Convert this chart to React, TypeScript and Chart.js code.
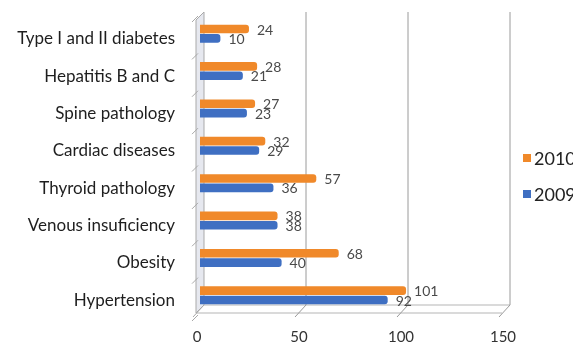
import React, { useEffect, useRef } from "react";
import { Chart, registerables } from "chart.js";

Chart.register(...registerables);

const categories = [
  "Type I and II diabetes",
  "Hepatitis B and C",
  "Spine pathology",
  "Cardiac diseases",
  "Thyroid pathology",
  "Venous insuficiency",
  "Obesity",
  "Hypertension",
];
const values2010 = [24, 28, 27, 32, 57, 38, 68, 101];
const values2009 = [10, 21, 23, 29, 36, 38, 40, 92];
const xTicks = [0, 50, 100, 150];
const seriesNames = ["2010", "2009"];
const seriesColors = ["#F0892A", "#3F6FC2"];

const FONT = "Lato, 'DejaVu Sans', sans-serif";

const decorPlugin = {
  id: "decor3d",
  beforeDatasetsDraw(chart: any) {
    const ctx = chart.ctx;
    const xs = chart.scales.x;
    const ca = chart.chartArea;
    const d = 4;
    const topBack = ca.top - 3;
    const floorBack = ca.bottom - 9;
    const floorFront = ca.bottom - 1;
    ctx.save();
    const x0 = xs.getPixelForValue(0);
    ctx.fillStyle = "#e6e8ef";
    ctx.strokeStyle = "#a9a9a9";
    ctx.lineWidth = 1;
    ctx.beginPath();
    ctx.moveTo(x0 - d, topBack + 2 * d);
    ctx.lineTo(x0 + d, topBack);
    ctx.lineTo(x0 + d, floorBack);
    ctx.lineTo(x0 - d, floorFront);
    ctx.closePath();
    ctx.fill();
    ctx.stroke();
    const n = categories.length;
    const band = (ca.bottom - ca.top) / n;
    for (let i = 0; i <= n; i++) {
      const y = ca.top + i * band + 4;
      ctx.beginPath();
      ctx.moveTo(x0 - d - 4, y + 3);
      ctx.lineTo(x0 - d + 2, y - 3);
      ctx.stroke();
    }
    ctx.strokeStyle = "#b5b5b5";
    ctx.beginPath();
    ctx.moveTo(x0 - d, floorFront);
    ctx.lineTo(xs.getPixelForValue(150) - d, floorFront);
    ctx.stroke();
    ctx.beginPath();
    ctx.moveTo(x0 + d, floorBack);
    ctx.lineTo(xs.getPixelForValue(150) + d, floorBack);
    ctx.stroke();
    xTicks.forEach((v) => {
      const xp = xs.getPixelForValue(v);
      ctx.strokeStyle = v === 0 ? "#a9a9a9" : "#9a9a9a";
      ctx.beginPath();
      ctx.moveTo(xp - d - 3, floorFront + 4);
      ctx.lineTo(xp + d, floorBack);
      if (v !== 0) ctx.lineTo(xp + d, topBack);
      ctx.stroke();
    });
    ctx.restore();
  },
  afterDatasetsDraw(chart: any) {
    const ctx = chart.ctx;
    const xs = chart.scales.x;
    const ca = chart.chartArea;
    ctx.save();
    ctx.font = "14px " + FONT;
    ctx.fillStyle = "#4a4a4a";
    ctx.textBaseline = "middle";
    ctx.textAlign = "left";
    chart.data.datasets.forEach((ds: any, di: number) => {
      const meta = chart.getDatasetMeta(di);
      meta.data.forEach((bar: any, i: number) => {
        ctx.fillText(String(ds.data[i]), bar.x + 8, bar.y + 1);
      });
    });
    ctx.font = "15px " + FONT;
    ctx.textAlign = "center";
    ctx.fillStyle = "#333";
    xTicks.forEach((v) => {
      ctx.fillText(String(v), xs.getPixelForValue(v) - 3, ca.bottom + 23);
    });
    ctx.font = "18px " + FONT;
    ctx.textAlign = "left";
    seriesNames.forEach((name, i) => {
      const y = 158 + i * 36;
      ctx.fillStyle = seriesColors[i];
      ctx.fillRect(523, y - 4, 8, 8);
      ctx.fillStyle = "#222";
      ctx.fillText(name, 534, y + 1);
    });
    ctx.restore();
  },
};

export default function App() {
  const ref = useRef<HTMLCanvasElement | null>(null);
  useEffect(() => {
    document.body.style.margin = "0";
    const canvas = ref.current;
    if (!canvas) return;
    const chart = new Chart(canvas, {
      type: "bar",
      data: {
        labels: categories,
        datasets: [
          {
            label: seriesNames[0],
            data: values2010,
            backgroundColor: seriesColors[0],
            borderRadius: 3,
            borderSkipped: "start",
            categoryPercentage: 0.5,
            barPercentage: 0.92,
          },
          {
            label: seriesNames[1],
            data: values2009,
            backgroundColor: seriesColors[1],
            borderRadius: 3,
            borderSkipped: "start",
            categoryPercentage: 0.5,
            barPercentage: 0.92,
          },
        ],
      },
      options: {
        indexAxis: "y",
        animation: false,
        responsive: false,
        maintainAspectRatio: false,
        layout: { padding: { top: 15, bottom: 29, right: 67, left: 0 } },
        plugins: { legend: { display: false }, tooltip: { enabled: false } },
        scales: {
          x: {
            display: false,
            min: 0,
            max: 150,
          },
          y: {
            grid: { display: false, drawTicks: false },
            border: { display: false },
            ticks: {
              padding: 25,
              labelOffset: 5,
              color: "#1e1e1e",
              font: { family: FONT, size: 17 },
            },
            afterFit: (scale: any) => {
              scale.width = 200;
              scale.paddingTop = 0;
              scale.paddingBottom = 0;
            },
          },
        },
      },
      plugins: [decorPlugin],
    });
    return () => chart.destroy();
  }, []);
  return <canvas ref={ref} width={573} height={343} style={{ display: "block" }} />;
}
